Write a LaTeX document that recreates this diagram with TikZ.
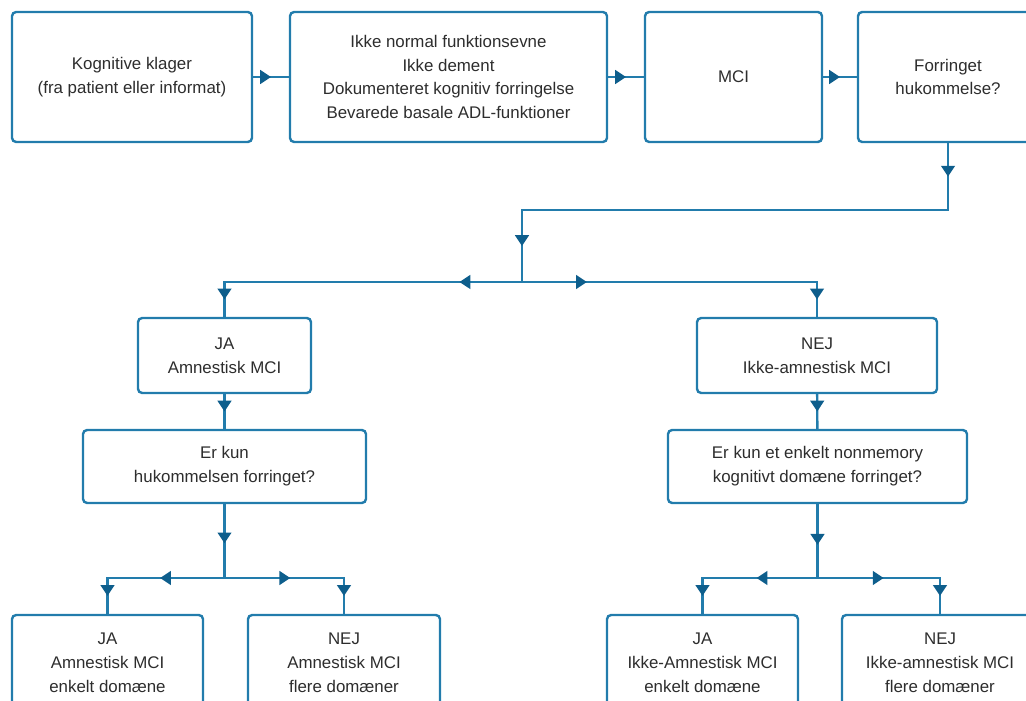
\documentclass[tikz,border=0pt]{standalone}
\usepackage{fontspec}
\setmainfont{Liberation Sans}
\usetikzlibrary{arrows.meta,
	decorations.markings,
	calc}
\definecolor{boxline}{RGB}{34,124,172}
\definecolor{tipfill}{RGB}{14,94,140}
\definecolor{boxtext}{RGB}{45,45,45}
\tikzstyle{box}=[draw=boxline, line width=1.7pt, rounded corners=3pt,
		align=center, text=boxtext, inner sep=2pt,
		font=\fontsize{12}{17}\selectfont]
\tikzstyle{conn}=[draw=boxline, line width=1.7pt, line cap=rect]
\tikzset{midtip/.style={postaction=decorate, decoration={markings,
		mark=at position #1 with {\arrow[tipfill]{Triangle[length=0.27cm,width=0.34cm]}}}},
	midtip/.default=0.5}

\begin{document}
\begin{tikzpicture}[x=0.025cm, y=-0.025cm]
	\useasboundingbox (0,0) rectangle (1026,701);
	\clip (0,0) rectangle (1026,701);
	% top row
	\node[box, minimum width=6cm, minimum height=3.25cm] (klager) at (132,77)
		{Kognitive klager\\(fra patient eller informat)};
	\node[box, minimum width=7.925cm, minimum height=3.25cm] (kriterier) at (448.5,77)
		{Ikke normal funktionsevne\\Ikke dement\\Dokumenteret kognitiv forringelse\\Bevarede basale ADL-funktioner};
	\node[box, minimum width=4.425cm, minimum height=3.25cm] (mci) at (733.5,77) {MCI};
	\node[box, minimum width=4.5cm, minimum height=3.25cm] (hukom) at (948,77)
		{Forringet\\hukommelse?};
	% second level
	\node[box, minimum width=4.325cm, minimum height=1.875cm] (amn) at (224.5,355.5)
		{JA\\Amnestisk MCI};
	\node[box, minimum width=6cm, minimum height=1.875cm] (ikkeamn) at (817,355.5)
		{NEJ\\Ikke-amnestisk MCI};
	\node[box, minimum width=7.075cm, minimum height=1.825cm] (kunhuk) at (224.5,466.5)
		{Er kun\\hukommelsen forringet?};
	\node[box, minimum width=7.475cm, minimum height=1.825cm] (kundom) at (817.5,466.5)
		{Er kun et enkelt nonmemory\\kognitivt domæne forringet?};
	% bottom row
	\node[box, minimum width=4.775cm, minimum height=2.375cm] (amnenk) at (107.5,662.5)
		{JA\\Amnestisk MCI\\enkelt domæne};
	\node[box, minimum width=4.8cm, minimum height=2.375cm] (amnfl) at (344,662.5)
		{NEJ\\Amnestisk MCI\\flere domæner};
	\node[box, minimum width=4.775cm, minimum height=2.375cm] (ikkeenk) at (702.5,662.5)
		{JA\\Ikke-Amnestisk MCI\\enkelt domæne};
	\node[box, minimum width=4.9cm, minimum height=2.375cm] (ikkefl) at (940,662.5)
		{NEJ\\Ikke-amnestisk MCI\\flere domæner};
	% junctions
	\coordinate (j1) at (948,210);
	\coordinate (j2) at (522,210);
	\coordinate (j3) at (522,282);
	\coordinate (jl) at (amn.north |- j3);
	\coordinate (jr) at (ikkeamn.north |- j3);
	\coordinate (ja) at (224.5,578);
	\coordinate (jal) at (amnenk.north |- ja);
	\coordinate (jar) at (amnfl.north |- ja);
	\coordinate (jn) at (817.5,578);
	\coordinate (jnl) at (ikkeenk.north |- jn);
	\coordinate (jnr) at (ikkefl.north |- jn);
	% connectors
	\draw[conn, midtip] (klager) -- (kriterier);
	\draw[conn, midtip] (kriterier) -- (mci);
	\draw[conn, midtip] (mci) -- (hukom);
	\draw[conn, midtip] (hukom.south) -- (j1);
	\draw[conn] (j1) -- (j2);
	\draw[conn, midtip] (j2) -- (j3);
	\draw[conn, midtip=0.21] (j3) -- (jl);
	\draw[conn, midtip=0.22] (j3) -- (jr);
	\draw[conn, midtip] (jl) -- (amn.north);
	\draw[conn, midtip] (jr) -- (ikkeamn.north);
	\draw[conn, midtip] (amn) -- (kunhuk);
	\draw[conn, midtip] (ikkeamn) -- (kundom);
	\draw[conn, midtip=0.53] (kunhuk.south) -- (ja);
	\draw[conn, midtip=0.55] (ja) -- (jal);
	\draw[conn, midtip=0.55] (ja) -- (jar);
	\draw[conn, midtip] (jal) -- (amnenk.north);
	\draw[conn, midtip] (jar) -- (amnfl.north);
	\draw[conn, midtip=0.55] (kundom.south) -- (jn);
	\draw[conn, midtip=0.53] (jn) -- (jnl);
	\draw[conn, midtip=0.54] (jn) -- (jnr);
	\draw[conn, midtip] (jnl) -- (ikkeenk.north);
	\draw[conn, midtip] (jnr) -- (ikkefl.north);
\end{tikzpicture}
\end{document}
